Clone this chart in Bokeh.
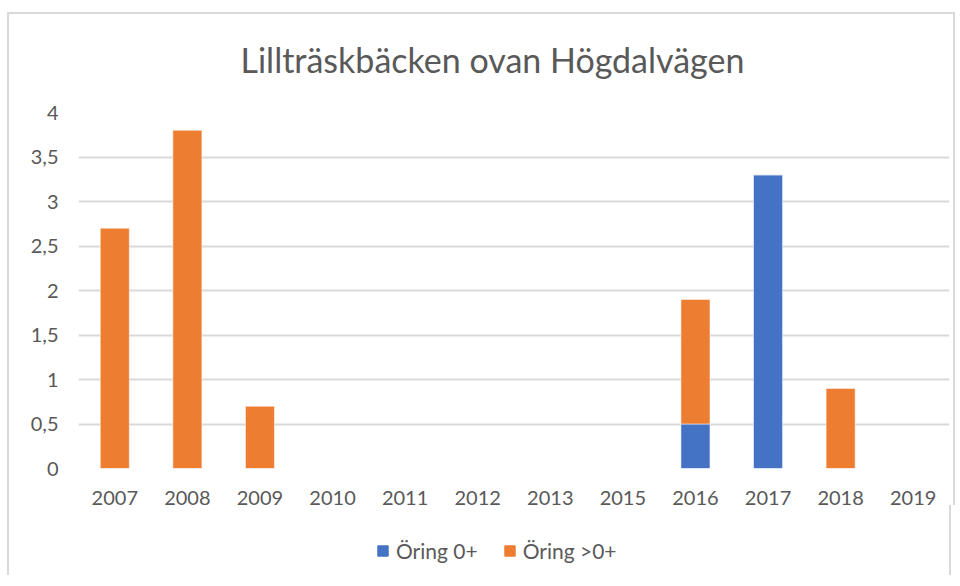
from bokeh.plotting import figure
from bokeh.layouts import column
from bokeh.models import Range1d, FactorRange, Legend, LegendItem, FixedTicker, ColumnDataSource, Title
from bokeh.embed import file_html
from bokeh.resources import INLINE

years = ["2007", "2008", "2009", "2010", "2011", "2012", "2013", "2015", "2016", "2017", "2018", "2019"]
oring_0 = [0, 0, 0, 0, 0, 0, 0, 0, 0.5, 3.3, 0, 0]
oring_gt0 = [2.7, 3.8, 0.7, 0, 0, 0, 0, 0, 1.4, 0, 0.9, 0]
series = ["Öring 0+", "Öring >0+"]
y_ticks = [0, 0.5, 1, 1.5, 2, 2.5, 3, 3.5, 4]
y_tick_labels = ["0", "0,5", "1", "1,5", "2", "2,5", "3", "3,5", "4"]
title_text = "Lillträskbäcken ovan Högdalvägen"

FONT = "Lato"
TXT = "#595959"
BORDER = "2px solid #d9d9d9"
colors = ["#4472C4", "#ED7D31"]

src = ColumnDataSource(dict(year=years, o0=oring_0, o1=oring_gt0))

p = figure(x_range=FactorRange(*years), y_range=Range1d(0, 4), title=None,
           frame_width=867, frame_height=354, output_backend="svg", toolbar_location=None,
           min_border_left=69, min_border_right=8, min_border_top=98, min_border_bottom=0)
p.styles = {"border-top": BORDER, "border-left": BORDER, "border-right": BORDER,
            "margin-top": "12px", "margin-left": "7px"}

r = p.vbar_stack(["o0", "o1"], x="year", width=0.4, color=colors, source=src,
                 line_color="white", line_width=0.5)

# spacer between frame and title
p.add_layout(Title(text=" ", text_font_size="10px", standoff=20), "above")
p.add_layout(Title(text=title_text, align="left", offset=162, text_font=FONT,
                   text_font_size="34px", text_font_style="normal", text_color=TXT,
                   standoff=0), "above")

p.outline_line_color = None
p.xgrid.grid_line_color = None
p.ygrid.grid_line_color = "#d9d9d9"
p.ygrid.grid_line_width = 2
p.yaxis.ticker = FixedTicker(ticks=y_ticks)
p.yaxis.major_label_overrides = {t: l for t, l in zip(y_ticks, y_tick_labels)}
for ax in (p.xaxis, p.yaxis):
    ax.axis_line_color = None
    ax.major_tick_line_color = None
    ax.minor_tick_line_color = None
    ax.major_label_text_font = FONT
    ax.major_label_text_font_size = "20px"
    ax.major_label_text_color = TXT
p.xaxis.major_label_standoff = 16
p.yaxis.major_label_standoff = 14

# legend strip below the chart: same series, drawn out of view, only their legend shows
p2 = figure(width=944, height=70, x_range=FactorRange(*years), y_range=Range1d(100, 101),
            output_backend="svg", toolbar_location=None,
            min_border_left=0, min_border_right=0, min_border_top=0, min_border_bottom=0)
p2.styles = {"border-left": BORDER, "border-right": BORDER, "margin-left": "7px"}
p2.axis.visible = False
p2.grid.visible = False
p2.outline_line_color = None
proxies = p2.vbar_stack(["o0", "o1"], x="year", width=0.4, color=colors, source=src)

legend = Legend(items=[LegendItem(label=series[i], renderers=[proxies[i]]) for i in range(2)],
                orientation="horizontal", location=(298, 12),
                label_text_font=FONT, label_text_font_size="21px", label_text_color=TXT,
                glyph_width=13, glyph_height=13, spacing=25,
                border_line_color=None, background_fill_alpha=0,
                margin=0, padding=0, label_standoff=7)
p2.add_layout(legend)

layout = column(p, p2, spacing=0)
open("out.html", "w").write(file_html(layout, INLINE))
